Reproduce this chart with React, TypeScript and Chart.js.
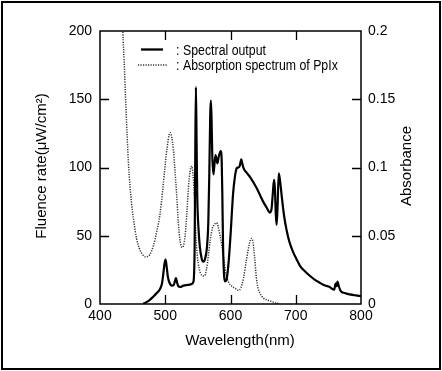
import React, { useEffect, useRef } from 'react';
import { Chart, registerables } from 'chart.js';

Chart.register(...registerables);

// Spectral output (left axis, µW/cm²)
const specWl = [466, 475, 482, 487, 492, 495, 497, 499, 500.5, 502, 504, 507, 510, 513, 515, 516.5, 518, 520, 523, 528, 535, 540, 543, 545, 546, 547, 548, 549, 551, 553, 556, 558.5, 561, 564, 566, 567.5, 569, 570, 571, 572, 573.7, 575, 577, 580, 582, 585, 586.5, 587.5, 588.5, 590, 591.5, 594, 597, 600, 604, 607, 609.5, 612, 614, 616.6, 618, 620, 625, 630, 640, 650, 655, 660.5, 663, 665, 666.7, 668, 669.5, 670.7, 672, 674, 676, 678.5, 682, 686, 690, 696, 701, 706.5, 714, 722, 730, 737, 745, 752, 756, 759, 761, 762.5, 764, 766, 769, 775, 783, 792, 800];
const specVal = [0, 2.5, 5.5, 8, 11, 15, 22, 30, 32.5, 28, 20, 15, 13.5, 14, 17, 19, 16, 13, 12.5, 13.5, 14, 14.5, 16, 40, 110, 159, 120, 80, 55, 42, 33, 31, 33, 42, 60, 95, 140, 149, 135, 110, 95, 100, 109, 103, 108, 112, 105, 80, 45, 22, 16.5, 18, 30, 50, 81, 94, 99.5, 100, 101, 106, 103, 99.5, 96, 93, 85, 75, 71, 67, 70, 82, 91, 85, 65, 58, 70, 95.7, 90, 79, 65, 54, 46, 38, 33, 28, 24, 20.5, 17.5, 15.5, 13.5, 12.5, 11, 10.5, 15, 13, 16.5, 13, 9.5, 8, 7, 6.3, 5.8];

// Absorption spectrum of PpIx (right axis, absorbance)
const absWl = [432, 435, 437, 440, 443.5, 448.5, 452, 456, 460, 464, 470, 476, 482, 487, 492, 496, 499.5, 503, 506, 508, 510, 512.5, 515, 517.5, 520, 522.5, 525.5, 528, 530.5, 533, 535.5, 538, 540.5, 542.5, 545, 547, 549, 552, 556, 560, 563, 566, 569, 572, 575, 578.5, 581, 584, 587, 590, 593, 597, 602, 607, 612, 616, 620, 624, 628, 630.5, 632.5, 634.5, 637, 639.5, 642, 645, 650, 656, 662, 668, 674, 676];
const absVal = [0.26, 0.2, 0.178, 0.141, 0.104, 0.073, 0.06, 0.048, 0.041, 0.037, 0.0345, 0.036, 0.043, 0.053, 0.066, 0.083, 0.1, 0.115, 0.124, 0.1255, 0.122, 0.113, 0.097, 0.08, 0.06, 0.047, 0.0415, 0.043, 0.05, 0.066, 0.085, 0.097, 0.101, 0.095, 0.075, 0.05, 0.036, 0.026, 0.021, 0.0205, 0.025, 0.035, 0.047, 0.055, 0.058, 0.0595, 0.057, 0.05, 0.042, 0.032, 0.022, 0.016, 0.013, 0.0115, 0.01, 0.012, 0.019, 0.031, 0.042, 0.047, 0.048, 0.045, 0.034, 0.02, 0.012, 0.008, 0.0045, 0.003, 0.002, 0.001, 0.0003, 0];

const xTickLabels = ['400', '500', '600', '700', '800'];
const fluenceTickLabels = ['0', '50', '100', '150', '200'];
const absTickLabels = ['0', '0.05', '0.1', '0.15', '0.2'];
const legendLabels = ['Spectral output', 'Absorption spectrum of PpIx'];
const xTitle = 'Wavelength(nm)';
const yTitle = 'Fluence rate(\u03BCW/cm\u00B2)';
const y2Title = 'Absorbance';

const FONT = "'Liberation Sans', Arial, Helvetica, sans-serif";
const TEXT = '#000';
const DOT = '#333';

const decorPlugin = {
  id: 'decor',
  afterDatasetsDraw(chart: any) {
    const { ctx, chartArea: a, scales } = chart;
    ctx.save();
    // frame
    ctx.strokeStyle = '#000';
    ctx.lineWidth = 1.5;
    ctx.setLineDash([]);
    ctx.strokeRect(a.left, a.top, a.right - a.left, a.bottom - a.top);
    // inward ticks
    const tl = 9;
    ctx.lineWidth = 1.3;
    ctx.beginPath();
    const xt = scales.x.ticks;
    xt.slice(1, xt.length - 1).forEach((t: any) => {
      const px = Math.round(scales.x.getPixelForValue(t.value)) + 0.5;
      ctx.moveTo(px, a.bottom);
      ctx.lineTo(px, a.bottom - tl);
      ctx.moveTo(px, a.top);
      ctx.lineTo(px, a.top + tl);
    });
    const yt = scales.y.ticks;
    yt.slice(1, yt.length - 1).forEach((t: any) => {
      const py = Math.round(scales.y.getPixelForValue(t.value)) + 0.5;
      ctx.moveTo(a.left, py);
      ctx.lineTo(a.left + tl, py);
    });
    const y2t = scales.y2.ticks;
    y2t.slice(1, y2t.length - 1).forEach((t: any) => {
      const py = Math.round(scales.y2.getPixelForValue(t.value)) + 0.5;
      ctx.moveTo(a.right, py);
      ctx.lineTo(a.right - tl, py);
    });
    ctx.stroke();

    // legend
    ctx.strokeStyle = '#000';
    ctx.lineWidth = 2.3;
    ctx.beginPath();
    ctx.moveTo(141, 49.5);
    ctx.lineTo(163, 49.5);
    ctx.stroke();
    ctx.strokeStyle = DOT;
    ctx.lineWidth = 1.5;
    ctx.setLineDash([1.2, 1.3]);
    ctx.beginPath();
    ctx.moveTo(138, 65);
    ctx.lineTo(168, 65);
    ctx.stroke();
    ctx.setLineDash([]);

    ctx.fillStyle = TEXT;
    ctx.font = `14px ${FONT}`;
    ctx.textBaseline = 'middle';
    ctx.textAlign = 'left';
    const rows = [51.5, 66];
    legendLabels.forEach((lab, i) => {
      ctx.save();
      ctx.translate(176, rows[i]);
      ctx.scale(0.88, 1);
      ctx.fillText(':', 0, 0);
      ctx.fillText(lab, 8, 0);
      ctx.restore();
    });

    // axis titles
    ctx.font = `15px ${FONT}`;
    ctx.textAlign = 'center';
    ctx.textBaseline = 'middle';
    ctx.fillText(xTitle, 240, 341);
    ctx.save();
    ctx.translate(42, 166);
    ctx.rotate(-Math.PI / 2);
    ctx.fillText(yTitle, 0, 0);
    ctx.restore();
    ctx.save();
    ctx.translate(407, 166);
    ctx.rotate(-Math.PI / 2);
    ctx.fillText(y2Title, 0, 0);
    ctx.restore();

    ctx.restore();
  },
};

export default function App() {
  const ref = useRef<HTMLCanvasElement | null>(null);

  useEffect(() => {
    if (!ref.current) return;
    const tickFont = { family: FONT, size: 14 };
    const chart = new Chart(ref.current, {
      type: 'line',
      data: {
        datasets: [
          {
            label: legendLabels[0],
            data: specWl.map((x, i) => ({ x, y: specVal[i] })),
            borderColor: '#000',
            borderWidth: 2.2,
            pointRadius: 0,
            cubicInterpolationMode: 'monotone',
            yAxisID: 'y',
            clip: 0,
          } as any,
          {
            label: legendLabels[1],
            data: absWl.map((x, i) => ({ x, y: absVal[i] })),
            borderColor: DOT,
            borderWidth: 1.5,
            borderDash: [1.2, 1.3],
            pointRadius: 0,
            cubicInterpolationMode: 'monotone',
            yAxisID: 'y2',
            clip: 0,
          } as any,
        ],
      },
      options: {
        animation: false,
        responsive: false,
        devicePixelRatio: 1,
        layout: { padding: { top: 31, left: 0, right: 0, bottom: 0 } },
        plugins: { legend: { display: false }, tooltip: { enabled: false }, title: { display: false } },
        scales: {
          x: {
            type: 'linear',
            min: 400,
            max: 800,
            grid: { display: false, drawTicks: false },
            border: { display: false },
            ticks: {
              stepSize: 100,
              padding: 4,
              color: TEXT,
              font: tickFont,
              maxRotation: 0,
              callback: (_v: any, i: number) => xTickLabels[i],
            },
            afterFit: (s: any) => {
              s.height = 67;
            },
          },
          y: {
            type: 'linear',
            position: 'left',
            min: 0,
            max: 200,
            grid: { display: false, drawTicks: false },
            border: { display: false },
            ticks: {
              stepSize: 50,
              padding: 8,
              color: TEXT,
              font: tickFont,
              callback: (_v: any, i: number) => fluenceTickLabels[i],
            },
            afterFit: (s: any) => {
              s.width = 100;
            },
          },
          y2: {
            type: 'linear',
            position: 'right',
            min: 0,
            max: 0.2,
            grid: { display: false, drawTicks: false },
            border: { display: false },
            ticks: {
              stepSize: 0.05,
              padding: 7,
              color: TEXT,
              font: tickFont,
              callback: (_v: any, i: number) => absTickLabels[i],
            },
            afterFit: (s: any) => {
              s.width = 81;
            },
          },
        },
      } as any,
      plugins: [decorPlugin],
    });
    return () => chart.destroy();
  }, []);

  return (
    <div style={{ position: 'fixed', left: 0, top: 0, width: 442, height: 371, background: '#fff' }}>
      <canvas ref={ref} width={442} height={371} style={{ display: 'block', width: 442, height: 371 }} />
      <div
        style={{
          position: 'absolute',
          left: 1,
          top: 1,
          width: 440,
          height: 369,
          border: '2px solid #000',
          boxSizing: 'border-box',
          pointerEvents: 'none',
        }}
      />
    </div>
  );
}
